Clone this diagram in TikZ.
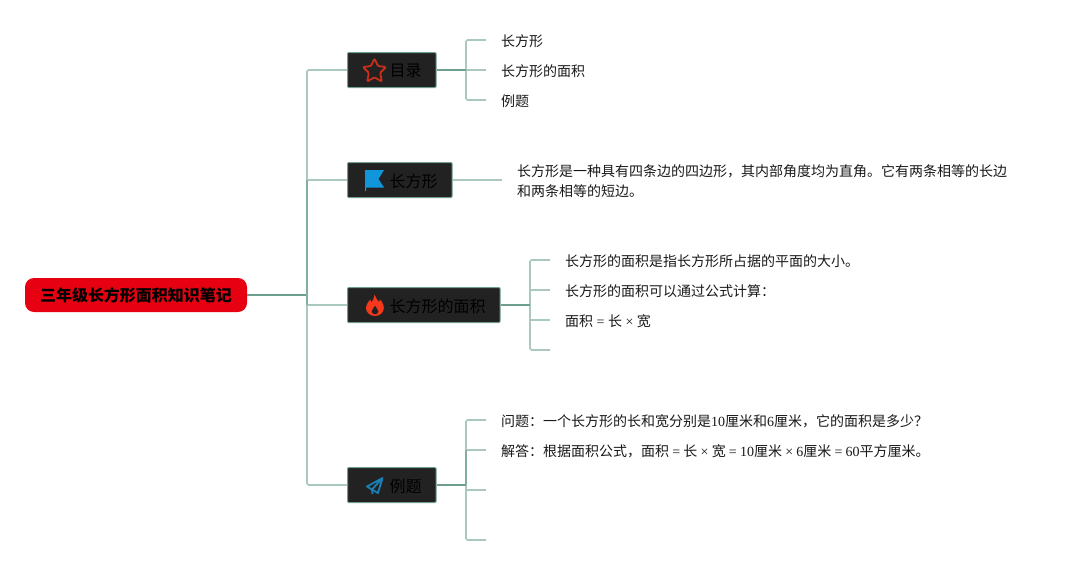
\documentclass[tikz,border=0pt]{standalone}
\usepackage{fontspec}
\setmainfont{Liberation Serif}
\newfontfamily\cjk{Noto Sans CJK SC}
\newcommand{\C}[1]{{\cjk #1}}
\newcommand{\Op}[1]{\hspace{3.2pt}#1\hspace{3.2pt}}
\definecolor{darkedge}{HTML}{6E9E8E}
\definecolor{midedge}{HTML}{82AD9F}
\definecolor{lightedge}{HTML}{A9C9BE}
\definecolor{boxfill}{HTML}{222222}
\definecolor{boxline}{HTML}{6E9E8E}
\definecolor{rootred}{HTML}{E60012}
\definecolor{starred}{RGB}{200,48,26}
\definecolor{flagblue}{RGB}{18,150,219}
\definecolor{flamered}{RGB}{245,55,27}
\definecolor{planeblue}{RGB}{26,127,181}
\tikzset{
  topicbox/.style={draw=boxline,line width=1pt,fill=boxfill,minimum height=35pt,inner sep=0pt,anchor=west,text=black,font=\fontsize{16}{20}\selectfont\cjk,rounded corners=1pt},
  rootbox/.style={fill=rootred,rounded corners=9pt,minimum width=222pt,minimum height=34pt,inner sep=0pt,text=black,font=\fontsize{16}{20}\selectfont\cjk\bfseries},
  topiclabel/.style={anchor=west,inner sep=0pt,font=\fontsize{16}{20}\selectfont\cjk},
  leaf/.style={anchor=west,inner sep=0pt,text=black!90,font=\fontsize{14}{20}\selectfont},
  lightline/.style={draw=lightedge,line width=1.7pt,rounded corners=1.5pt},
  darkline/.style={draw=darkedge,line width=2pt},
}
\begin{document}
\begin{tikzpicture}[x=1pt,y=-1pt]
\useasboundingbox (0,0) rectangle (1077,565);
% nodes
\node[rootbox] (root) at (136,295) {三年级长方形面积知识笔记};
\node[topicbox,minimum width=88.5pt] (t1) at (347,70) {};
\node[topicbox,minimum width=104.5pt] (t2) at (347,180) {};
\node[topicbox,minimum width=152.5pt] (t3) at (347,305) {};
\node[topicbox,minimum width=88.5pt] (t4) at (347,485) {};
\node[topiclabel] (l1) at (389.5,71) {目录};
\node[topiclabel] (l2) at (389.5,181) {长方形};
\node[topiclabel] (l3) at (389.5,306) {长方形的面积};
\node[topiclabel] (l4) at (389.5,486) {例题};
% leaves
\node[leaf] (a1) at (501,41) {\C{长方形}};
\node[leaf] (a2) at (501,71) {\C{长方形的面积}};
\node[leaf] (a3) at (501,101) {\C{例题}};
\node[leaf] (b1) at (517,171) {\C{长方形是一种具有四条边的四边形，其内部角度均为直角。它有两条相等的长边}};
\node[leaf] (b2) at (517,191) {\C{和两条相等的短边。}};
\node[leaf] (c1) at (565,261) {\C{长方形的面积是指长方形所占据的平面的大小。}};
\node[leaf] (c2) at (565,291) {\C{长方形的面积可以通过公式计算：}};
\node[leaf] (c3) at (565,321) {\C{面积} = \C{长} × \C{宽}};
\node[leaf] (d1) at (501,421) {\C{问题：一个长方形的长和宽分别是}10\C{厘米和}6\C{厘米，它的面积是多少？}};
\node[leaf] (d2) at (501,451) {\C{解答：根据面积公式，面积}\Op{=}\C{长}\Op{×}\C{宽}\Op{=}10\C{厘米}\Op{×}6\C{厘米}\Op{=}60\C{平方厘米。}};
% coordinates
\coordinate (trunk) at (307,295);
\coordinate (e1) at (486,40); \coordinate (e2) at (486,70); \coordinate (e3) at (486,100);
\coordinate (f1) at (502,180);
\coordinate (g1) at (550,260); \coordinate (g2) at (550,290); \coordinate (g3) at (550,320); \coordinate (g4) at (550,350);
\coordinate (h1) at (486,420); \coordinate (h2) at (486,450); \coordinate (h3) at (486,490); \coordinate (h4) at (486,540);
\coordinate (j1) at (466,70); \coordinate (j3) at (530,305); \coordinate (j4) at (466,485);
% connectors
\draw[lightline] (t1.west) -- (trunk |- t1.west) -- (trunk |- t4.west) -- (t4.west);
\draw[lightline] (trunk |- t2.west) -- (t2.west);
\draw[lightline] (trunk |- t3.west) -- (t3.west);
\draw[darkline] (root.east) -- (trunk);
\draw[midedge,line width=1.7pt] (trunk |- t2.west) -- (trunk |- t3.west);
\draw[lightline] (e1) -- (j1 |- e1) -- (j1 |- e3) -- (e3);
\draw[lightline] (j1) -- (e2);
\draw[darkline] (t1.east) -- (j1);
\draw[lightline] (t2.east) -- (f1);
\draw[lightline] (g1) -- (j3 |- g1) -- (j3 |- g4) -- (g4);
\draw[lightline] (j3 |- g2) -- (g2);
\draw[lightline] (j3 |- g3) -- (g3);
\draw[darkline] (t3.east) -- (j3);
\draw[lightline] (h1) -- (j4 |- h1) -- (j4 |- h4) -- (h4);
\draw[lightline] (j4 |- h2) -- (h2);
\draw[lightline] (j4 |- h3) -- (h3);
\draw[midedge,line width=1.7pt] (j4 |- h2) -- (j4);
\draw[darkline] (t4.east) -- (j4);
% icons
\draw[draw=starred,line width=1.8pt,line join=round,rounded corners=1pt]
  (374.5,58.5) -- (378,66) -- (386,67) -- (380.2,72.8) -- (381.8,81.5) -- (374.5,77.3) -- (367.2,81.5) -- (368.8,72.8) -- (363,67) -- (371,66) -- cycle;
\fill[flagblue] (365,170) -- (384,170) -- (378.5,179) -- (384,187.5) -- (366.2,187.5) -- (366.2,191) -- (365,191) -- cycle;
\fill[flamered,even odd rule]
  (374.5,294.5) .. controls (375.5,298) and (377.5,300) .. (379,302) .. controls (380,301) and (380,300) .. (380,299.5) .. controls (383,302.5) and (384,306) .. (383.8,308.5) .. controls (383.5,312.5) and (380,316) .. (375,316) .. controls (370,316) and (366.3,312.5) .. (366,308.5) .. controls (365.8,304) and (369,302) .. (370,299.5) .. controls (371,301) and (371,302) .. (371.5,302.5) .. controls (373,300) and (374.5,297.5) .. (374.5,294.5) -- cycle
  (375,305.5) .. controls (374,308) and (371.3,309.5) .. (371.5,311.5) .. controls (371.8,313.5) and (373.5,314.5) .. (375,314.5) .. controls (376.5,314.5) and (378.2,313.5) .. (378.5,311.5) .. controls (378.7,309.5) and (376,308) .. (375,305.5) -- cycle;
\draw[draw=planeblue,line width=1.8pt,line join=round]
  (382.5,478) -- (367,486.5) -- (372,489.5) -- (382.5,478) -- (378,493) -- (372,489.5) -- (372.5,494);
\end{tikzpicture}
\end{document}
